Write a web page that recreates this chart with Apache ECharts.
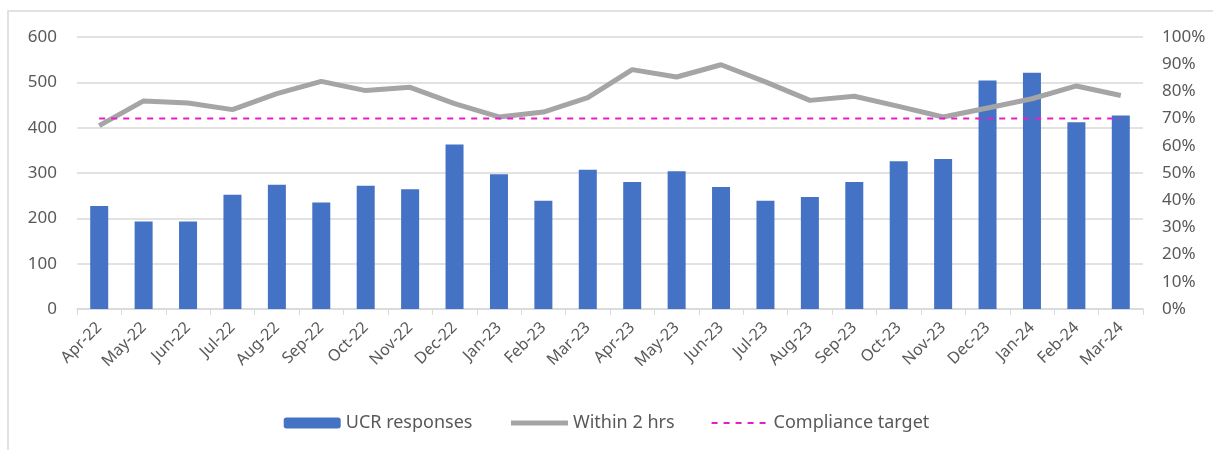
<!DOCTYPE html>
<html>
<head>
<meta charset="utf-8">
<script src="https://cdn.jsdelivr.net/npm/echarts@6/dist/echarts.min.js"></script>
<style>
html,body{margin:0;padding:0;background:#fff;}
#chart{width:1213px;height:450px;}
</style>
</head>
<body>
<div id="chart"></div>
<script>
const categories = ['Apr-22','May-22','Jun-22','Jul-22','Aug-22','Sep-22','Oct-22','Nov-22','Dec-22','Jan-23','Feb-23','Mar-23','Apr-23','May-23','Jun-23','Jul-23','Aug-23','Sep-23','Oct-23','Nov-23','Dec-23','Jan-24','Feb-24','Mar-24'];
const ucrResponses = [227,193,193,252,274,235,272,264,363,297,239,307,280,304,269,239,247,280,326,331,504,521,412,427];
const within2hrs = [0.674,0.765,0.757,0.733,0.792,0.837,0.803,0.815,0.755,0.706,0.724,0.777,0.880,0.853,0.898,0.835,0.767,0.782,0.745,0.706,0.739,0.773,0.820,0.785];
const complianceTarget = categories.map(() => 0.70);
const leftTicks = {min:0, max:600, interval:100};
const rightTicks = {min:0, max:1, interval:0.1};

const font = 'Noto Sans';
const txt = '#595959';
const chart = echarts.init(document.getElementById('chart'));
chart.setOption({
  animation:false,
  backgroundColor:'#fff',
  textStyle:{fontFamily:font},
  graphic:[{type:'rect', shape:{x:8,y:11,width:1230,height:460}, style:{fill:'none', stroke:'#d9d9d9', lineWidth:1.5}, silent:true, z:-1}],
  grid:{left:77, right:70, top:37, bottom:141},
  legend:{
    top:409, left:'center', itemGap:36, itemWidth:57, itemHeight:11,
    textStyle:{fontFamily:font, fontSize:18, color:txt},
    data:[
      {name:'UCR responses'},
      {name:'Within 2 hrs', itemStyle:{opacity:0}, lineStyle:{width:5}},
      {name:'Compliance target', itemStyle:{opacity:0}, lineStyle:{width:2}}
    ]
  },
  xAxis:{
    type:'category', data:categories,
    axisLine:{lineStyle:{color:'#d9d9d9', width:1.5}},
    axisTick:{show:true, alignWithLabel:false, length:6, lineStyle:{color:'#d9d9d9'}},
    axisLabel:{rotate:45, fontFamily:font, fontSize:16, color:txt, margin:16, interval:0}
  },
  yAxis:[
    {type:'value', min:leftTicks.min, max:leftTicks.max, interval:leftTicks.interval,
     axisLabel:{fontFamily:font, fontSize:17, color:txt, margin:20},
     splitLine:{lineStyle:{color:'#d9d9d9', width:1.5}}, axisLine:{show:false}, axisTick:{show:false}},
    {type:'value', min:rightTicks.min, max:rightTicks.max, interval:rightTicks.interval,
     axisLabel:{fontFamily:font, fontSize:17, color:txt, margin:19, formatter:v=>Math.round(v*100)+'%'},
     splitLine:{show:false}, axisLine:{show:false}, axisTick:{show:false}}
  ],
  series:[
    {name:'UCR responses', type:'bar', data:ucrResponses, barWidth:18, itemStyle:{color:'#4472c4'}, yAxisIndex:0, z:2},
    {name:'Within 2 hrs', type:'line', data:within2hrs, yAxisIndex:1, symbol:'none', itemStyle:{color:'#a5a5a5'}, lineStyle:{color:'#a5a5a5', width:5}, z:3},
    {name:'Compliance target', type:'line', data:complianceTarget, yAxisIndex:1, symbol:'none', itemStyle:{color:'#e61ec8'}, lineStyle:{color:'#e61ec8', width:2, type:[6,6]}, z:4}
  ]
});
</script>
</body>
</html>
